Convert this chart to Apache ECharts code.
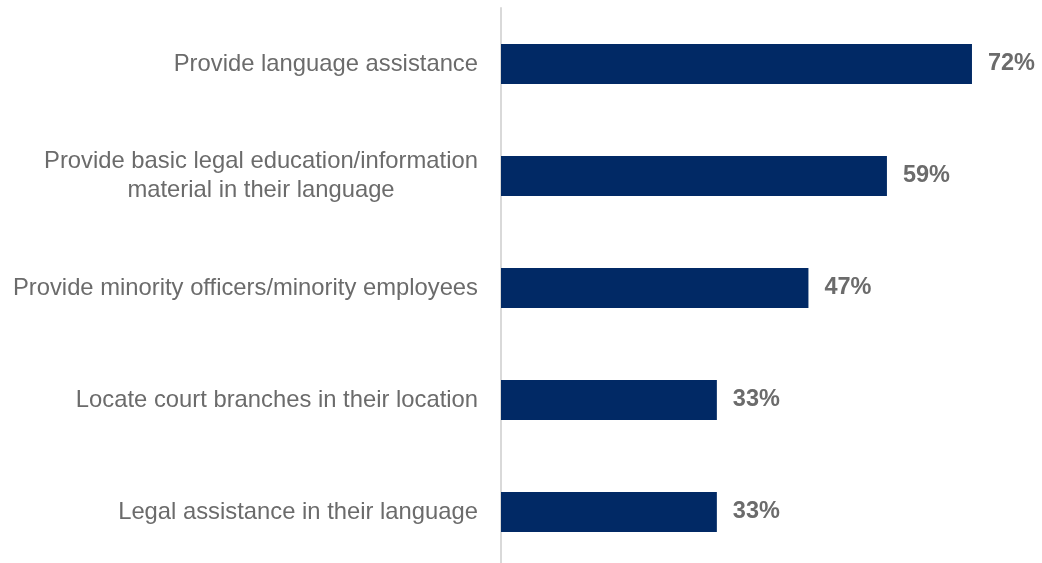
<!DOCTYPE html>
<html>
<head>
<meta charset="utf-8">
<style>
  html, body { margin: 0; padding: 0; background: #ffffff; }
  #chart { width: 1042px; height: 563px; }
</style>
<script src="https://cdn.jsdelivr.net/npm/echarts@6/dist/echarts.min.js"></script>
</head>
<body>
<div id="chart"></div>
<script>
// Measures listed top to bottom, with share of respondents (%)
const categories = [
  'Provide language assistance',
  'Provide basic legal education/information\nmaterial in their language',
  'Provide minority officers/minority employees',
  'Locate court branches in their location',
  'Legal assistance in their language'
];
const shares = [72, 59, 47, 33, 33];

const chart = echarts.init(document.getElementById('chart'), null, { renderer: 'canvas' });

const labelFont = 'Liberation Sans, Arial, sans-serif';

// Multi-line category names: each line centred inside a block that sits flush right
function formatCategory(name) {
  const lines = name.split('\n');
  if (lines.length === 1) return name;
  return lines.map(l => '{c|' + l + '}').join('\n');
}

chart.setOption({
  animation: false,
  backgroundColor: '#ffffff',
  grid: { left: 501, top: 8, width: 523.3, height: 560, outerBoundsMode: 'none', containLabel: false },
  xAxis: {
    type: 'value',
    min: 0,
    max: 80,
    show: false
  },
  yAxis: {
    type: 'category',
    data: categories,
    inverse: true,
    axisLine: { show: true, lineStyle: { color: '#d9d9d9', width: 2 } },
    axisTick: { show: false },
    splitLine: { show: false },
    axisLabel: {
      margin: 23,
      color: '#6b6b6b',
      fontFamily: labelFont,
      fontSize: 23.8,
      lineHeight: 29,
      align: 'right',
      formatter: formatCategory,
      rich: {
        c: {
          width: 434,
          align: 'center',
          color: '#6b6b6b',
          fontFamily: labelFont,
          fontSize: 23.8,
          lineHeight: 29
        }
      }
    }
  },
  series: [{
    type: 'bar',
    data: shares,
    barWidth: 40,
    itemStyle: { color: '#012965' },
    label: {
      show: true,
      position: 'right',
      distance: 16,
      formatter: p => p.value + '%',
      color: '#6b6b6b',
      fontFamily: labelFont,
      fontWeight: 'bold',
      fontSize: 23.5
    }
  }]
});
</script>
</body>
</html>
